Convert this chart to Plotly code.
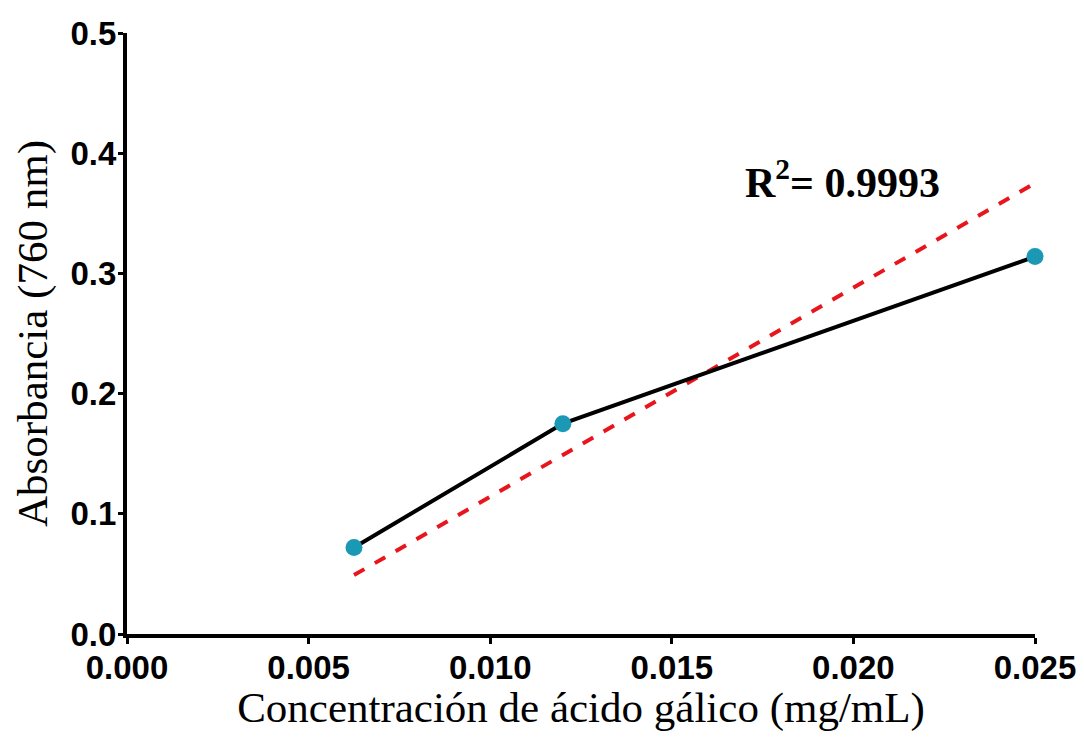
import plotly.graph_objects as go

conc = [0.00625, 0.0120, 0.0250]
absorb = [0.072, 0.175, 0.314]
fit_x = [0.00625, 0.0250]
fit_y = [0.049, 0.375]
r2_label = "R<sup>2</sup>= 0.9993"
x_ticks = [0.000, 0.005, 0.010, 0.015, 0.020, 0.025]
y_ticks = [0.0, 0.1, 0.2, 0.3, 0.4, 0.5]

fig = go.Figure()
fig.add_trace(go.Scatter(x=fit_x, y=fit_y, mode="lines",
                         line=dict(color="#e8161c", width=4, dash="dash"),
                         showlegend=False, cliponaxis=False))
fig.add_trace(go.Scatter(x=conc, y=absorb, mode="lines+markers",
                         line=dict(color="black", width=4),
                         marker=dict(color="#1b98b4", size=17),
                         showlegend=False, cliponaxis=False))

fig.add_annotation(x=0.0197, y=0.378, xref="x", yref="y", text=r2_label,
                   showarrow=False, xanchor="center", yanchor="middle",
                   font=dict(family="Liberation Serif", size=42, color="black", weight="bold"))

# page body has an 8px margin, so the figure is drawn 8px in from the corner
fig.update_layout(
    width=1076, height=724,
    paper_bgcolor="white", plot_bgcolor="white",
    margin=dict(l=119, r=49, t=25, b=98),
    font=dict(family="Liberation Sans", color="black"),
)
fig.update_xaxes(range=[0, 0.025], tickvals=x_ticks, tickformat=".3f", automargin=False,
                 showgrid=False, zeroline=False, showline=True, linecolor="black", linewidth=4,
                 ticks="outside", ticklen=6, tickwidth=3, tickcolor="black",
                 ticklabelstandoff=-5, ticklabeloverflow="allow",
                 tickfont=dict(family="Liberation Sans", size=33, weight="bold"),
                 title=dict(text="Concentración de ácido gálico (mg/mL)",
                            font=dict(family="Liberation Serif", size=43), standoff=7))
fig.update_yaxes(range=[0, 0.5], tickvals=y_ticks, tickformat=".1f", automargin=False,
                 showgrid=False, zeroline=False, showline=True, linecolor="black", linewidth=4,
                 ticks="outside", ticklen=5, tickwidth=3, tickcolor="black",
                 ticklabelstandoff=-5, ticklabeloverflow="allow",
                 tickfont=dict(family="Liberation Sans", size=33, weight="bold"),
                 title=dict(text="Absorbancia (760 nm)",
                            font=dict(family="Liberation Serif", size=43), standoff=10))

fig.write_html("out.html")
